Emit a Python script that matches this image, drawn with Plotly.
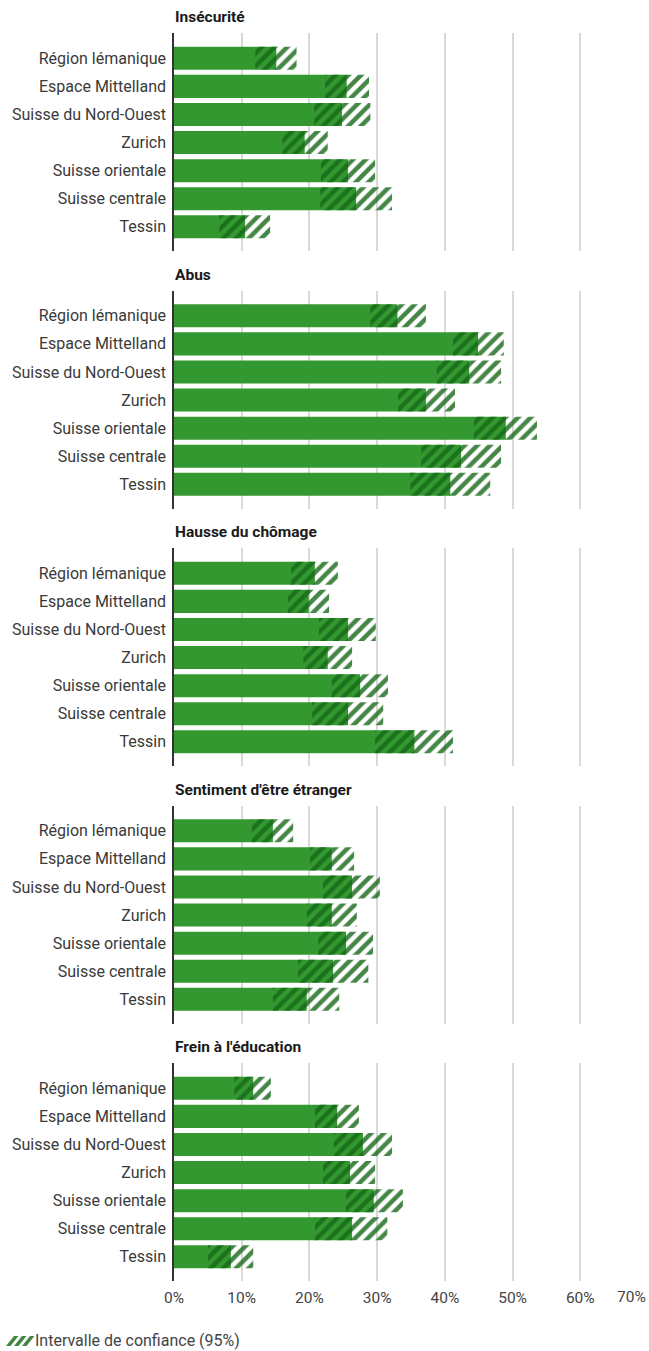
import plotly.graph_objects as go

regions = ["Région lémanique", "Espace Mittelland", "Suisse du Nord-Ouest", "Zurich",
           "Suisse orientale", "Suisse centrale", "Tessin"]
panel_titles = ["Insécurité", "Abus", "Hausse du chômage", "Sentiment d'être étranger",
                "Frein à l'éducation"]

# estimates, lower and upper bounds of the 95% confidence interval (%)
insecurite_est = [15.1, 25.5, 24.8, 19.3, 25.7, 26.9, 10.5]
insecurite_low = [12.0, 22.3, 20.7, 16.0, 21.7, 21.6, 6.7]
insecurite_up = [18.1, 28.8, 29.0, 22.7, 29.7, 32.2, 14.2]

abus_est = [33.0, 44.9, 43.6, 37.2, 49.0, 42.4, 40.8]
abus_low = [29.0, 41.2, 38.8, 33.1, 44.3, 36.5, 34.9]
abus_up = [37.2, 48.7, 48.3, 41.5, 53.6, 48.3, 46.7]

chomage_est = [20.8, 19.9, 25.7, 22.7, 27.5, 25.7, 35.5]
chomage_low = [17.3, 16.8, 21.4, 19.1, 23.3, 20.4, 29.7]
chomage_up = [24.2, 22.9, 29.8, 26.3, 31.6, 30.9, 41.2]

etranger_est = [14.6, 23.3, 26.3, 23.3, 25.4, 23.5, 19.6]
etranger_low = [11.5, 20.1, 22.0, 19.6, 21.3, 18.3, 14.6]
etranger_up = [17.6, 26.6, 30.4, 27.0, 29.4, 28.7, 24.4]

education_est = [11.7, 24.1, 27.9, 26.0, 29.5, 26.3, 8.4]
education_low = [8.9, 20.8, 23.6, 22.0, 25.4, 20.8, 5.0]
education_up = [14.3, 27.3, 32.2, 29.7, 33.8, 31.5, 11.7]

estimates = [insecurite_est, abus_est, chomage_est, etranger_est, education_est]
lowers = [insecurite_low, abus_low, chomage_low, etranger_low, education_low]
uppers = [insecurite_up, abus_up, chomage_up, etranger_up, education_up]

tick_vals = [0, 10, 20, 30, 40, 50, 60, 70]
tick_text = ["0%", "10%", "20%", "30%", "40%", "50%", "60%", ""]
legend_label = "Intervalle de confiance (95%)"

W, H = 649, 1351
ML, MR, MT = 174, 1, 33
BOTTOM = 1281
MB = H - BOTTOM
PW = W - ML - MR
PH = H - MT - MB
FONT = "Roboto"
GREEN = "#33982f"
HATCH = "rgba(22,104,24,0.80)"


def px_x(x):
    return (x - ML) / PW


def px_y(y):
    return (BOTTOM - y) / PH


fig = go.Figure()
layout = dict(
    width=W, height=H, margin=dict(l=ML, r=MR, t=MT, b=MB, autoexpand=False),
    paper_bgcolor="white", plot_bgcolor="white",
    barmode="overlay", bargap=0.18,
    font=dict(family=FONT, size=15, color="#333333"),
    showlegend=False,
)
annotations = []
shapes = []

for k in range(5):
    top_px = 33 + 257.5 * k
    bot_px = top_px + 218
    dom = [px_y(bot_px), px_y(top_px)]
    xa = "x" if k == 0 else f"x{k+1}"
    ya = "y" if k == 0 else f"y{k+1}"
    est, low, up = estimates[k], lowers[k], uppers[k]
    fig.add_trace(go.Bar(
        y=regions, x=est, base=0, orientation="h", xaxis=xa, yaxis=ya,
        marker=dict(color=GREEN, line=dict(width=0)), showlegend=False, hoverinfo="x+y"))
    fig.add_trace(go.Bar(
        y=regions, x=[u - l for u, l in zip(up, low)], base=low, orientation="h",
        xaxis=xa, yaxis=ya, name=legend_label, showlegend=False,
        marker=dict(color="rgba(0,0,0,0)", line=dict(width=0),
                    pattern=dict(shape="/", fgcolor=HATCH, bgcolor="rgba(0,0,0,0)",
                                 size=9, solidity=0.5, fillmode="replace"))))
    xkey = "xaxis" if k == 0 else f"xaxis{k+1}"
    ykey = "yaxis" if k == 0 else f"yaxis{k+1}"
    layout[xkey] = dict(
        domain=[0, 1], anchor=ya, range=[0, 70], tickvals=tick_vals, ticktext=tick_text,
        showticklabels=(k == 4), showgrid=True, gridcolor="#d9d9d9", gridwidth=1.5,
        zeroline=False, showline=False, ticks="outside" if k == 4 else "", ticklen=2,
        tickcolor="rgba(0,0,0,0)", tickfont=dict(size=15.5, color="#444444"), fixedrange=True)
    layout[ykey] = dict(
        domain=dom, anchor=xa, type="category", categoryorder="array",
        categoryarray=regions, range=[6.86, -0.9], autorange=False,
        showline=True, linecolor="#333333", linewidth=1.5, showgrid=False,
        ticks="outside", ticklen=3, tickcolor="rgba(0,0,0,0)",
        tickfont=dict(size=16, color="#3a3a3a"), fixedrange=True)
    annotations.append(dict(
        text=f"<b>{panel_titles[k]}</b>", xref="paper", yref="paper", x=0, xshift=-1,
        y=dom[1] + 16 / PH, xanchor="left", yanchor="middle", showarrow=False,
        font=dict(size=15.5, color="#1a1a1a", family=FONT)))

annotations.append(dict(
    text="70%", xref="x5", yref="paper", x=70, y=px_y(1297), xanchor="right",
    yanchor="middle", showarrow=False, font=dict(size=15.5, color="#444444", family=FONT)))

# legend: small hatched icon + label
for x0 in [6, 14, 22]:
    xb0, xb1, xt0, xt1 = x0, x0 + 4.5, x0 + 8, x0 + 12.5
    yb, yt = 1346, 1336
    path = (f"M {px_x(xb0)} {px_y(yb)} L {px_x(xb1)} {px_y(yb)} "
            f"L {px_x(xt1)} {px_y(yt)} L {px_x(xt0)} {px_y(yt)} Z")
    shapes.append(dict(type="path", xref="paper", yref="paper", path=path,
                       fillcolor=HATCH, line=dict(width=0)))
annotations.append(dict(
    text=legend_label, xref="paper", yref="paper", x=px_x(33), y=px_y(1340),
    xanchor="left", yanchor="middle", showarrow=False,
    font=dict(size=16, color="#444444", family=FONT)))

layout["annotations"] = annotations
layout["shapes"] = shapes
fig.update_layout(**layout)
fig.write_html(
    "out.html",
    config={"displayModeBar": False},
    post_script="document.body.style.margin='0';document.body.style.overflow='hidden';",
)
